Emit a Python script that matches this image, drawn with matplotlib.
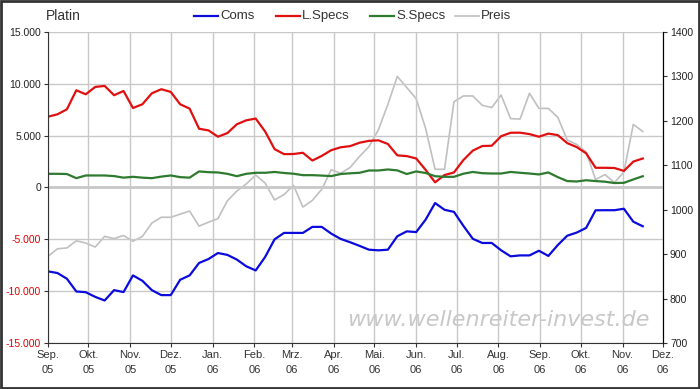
import numpy as np
import pandas as pd
import matplotlib
matplotlib.use("Agg")
import matplotlib.pyplot as plt
from matplotlib.patches import Rectangle

# weekly COT values, platinum
dates = pd.date_range("2005-09-01", periods=64, freq="7D")

coms = [-8090, -8250, -8800, -10030, -10100, -10550, -10900, -9900, -10090, -8480,
        -9000, -9900, -10380, -10380, -8900, -8480, -7280, -6900, -6320, -6500,
        -6950, -7600, -8000, -6700, -5000, -4380, -4380, -4380, -3800, -3800,
        -4450, -4960, -5280, -5630, -6000, -6060, -6000, -4700, -4230, -4300,
        -3100, -1500, -2150, -2350, -3700, -4950, -5350, -5350, -6060, -6640,
        -6550, -6550, -6100, -6600, -5550, -4650, -4350, -3900, -2200, -2190,
        -2190, -2050, -3300, -3740]

lspecs = [6830, 7060, 7540, 9380, 8990, 9700, 9800, 8900, 9310, 7670,
          8030, 9090, 9480, 9220, 8030, 7610, 5670, 5510, 4900, 5250,
          6100, 6480, 6650, 5400, 3700, 3220, 3230, 3350, 2600, 3050,
          3600, 3880, 3990, 4320, 4500, 4550, 4200, 3100, 3030, 2800,
          1700, 500, 1200, 1450, 2650, 3560, 4000, 4030, 4950, 5280,
          5290, 5150, 4900, 5200, 5050, 4280, 3900, 3300, 1900, 1900,
          1880, 1600, 2500, 2800]

sspecs = [1320, 1320, 1300, 900, 1160, 1160, 1160, 1100, 950, 1030,
          950, 900, 1050, 1160, 1000, 950, 1550, 1480, 1450, 1320,
          1090, 1320, 1420, 1420, 1500, 1400, 1330, 1190, 1190, 1150,
          1100, 1300, 1370, 1420, 1640, 1640, 1740, 1650, 1300, 1550,
          1400, 1090, 1030, 1030, 1330, 1500, 1380, 1350, 1350, 1500,
          1420, 1350, 1260, 1450, 1000, 620, 580, 700, 620, 560,
          430, 450, 780, 1090]

preis = [895, 912, 914, 930, 925, 916, 940, 935, 942, 929,
         940, 970, 983, 983, 990, 997, 963, 972, 980, 1020,
         1042, 1058, 1078, 1060, 1022, 1034, 1055, 1006, 1021, 1046,
         1090, 1082, 1095, 1120, 1142, 1180, 1237, 1300, 1275, 1250,
         1183, 1091, 1091, 1243, 1256, 1256, 1235, 1230, 1258, 1205,
         1204, 1262, 1228, 1228, 1208, 1157, 1147, 1130, 1068, 1079,
         1061, 1085, 1192, 1176]

month_labels = ["Sep.\n05", "Okt.\n05", "Nov.\n05", "Dez.\n05", "Jan.\n06", "Feb.\n06",
                "Mrz.\n06", "Apr.\n06", "Mai.\n06", "Jun.\n06", "Jul.\n06", "Aug.\n06",
                "Sep.\n06", "Okt.\n06", "Nov.\n06", "Dez.\n06"]
left_ticks = [15000, 10000, 5000, 0, -5000, -10000, -15000]
left_labels = ["15.000", "10.000", "5.000", "0", "-5.000", "-10.000", "-15.000"]
right_ticks = [1400, 1300, 1200, 1100, 1000, 900, 800, 700]

plt.rcParams["font.family"] = ["Liberation Sans", "DejaVu Sans"]

fig = plt.figure(figsize=(7, 3.89), dpi=100)
ax = fig.add_axes([48 / 700, 46 / 389, 615 / 700, 311 / 389])
ax2 = ax.twinx()

month_pos = pd.date_range("2005-09-01", periods=16, freq="MS")
ax.set_xlim(month_pos[0], month_pos[-1])
ax.set_xticks(month_pos)
ax.set_xticklabels(month_labels, fontsize=8, color="#333333", linespacing=1.6)

ax.set_ylim(-15000, 15000)
ax.set_yticks(left_ticks)
ax.set_yticklabels(left_labels, fontsize=7.5)
for lab, v in zip(ax.get_yticklabels(), left_ticks):
    lab.set_color("#e00000" if v < 0 else "#222222")

ax.grid(True, color="#c8c8c8", linewidth=1.0)
ax.axhline(0, color="#c8c8c8", linewidth=2.0, zorder=0)
ax.set_axisbelow(True)

ax2.plot(dates, preis, color="#c0c0c0", linewidth=1.2, zorder=1)
ax.set_zorder(ax2.get_zorder() + 1)
ax.patch.set_visible(False)
ax.plot(dates, coms, color="#0b0bdc", linewidth=1.6)
ax.plot(dates, lspecs, color="#e01010", linewidth=1.6)
ax.plot(dates, sspecs, color="#2e7a2e", linewidth=1.6)

ax2.set_ylim(700, 1400)
ax2.set_yticks(right_ticks)
ax2.set_yticklabels([str(t) for t in right_ticks], fontsize=7.5, color="#222222")

for a in (ax, ax2):
    a.spines["top"].set_visible(False)
    a.tick_params(length=3, width=0.8, color="#333333", pad=2)
ax.spines["left"].set_color("#333333")
ax.spines["bottom"].set_color("#333333")
ax.spines["bottom"].set_linestyle((0, (1, 1)))
ax2.spines["right"].set_color("#333333")
ax2.spines["left"].set_visible(False)
ax2.spines["bottom"].set_visible(False)

# title and legend row
fig.text(46 / 700, 1 - 16 / 389, "Platin", fontsize=10, color="#333333", va="center")
legend_items = [("Coms", "#0b0bdc", 194), ("L.Specs", "#e01010", 276),
                ("S.Specs", "#2e7a2e", 370), ("Preis", "#c0c0c0", 455)]
for name, col, x0 in legend_items:
    yy = 1 - 16 / 389
    fig.add_artist(plt.Line2D([x0 / 700, (x0 + 24) / 700], [yy, yy], color=col,
                              linewidth=1.6 if name != "Preis" else 1.2))
    fig.text((x0 + 26) / 700, yy, name, fontsize=9.5, color="#333333", va="center")

# watermark
fig.text(650 / 700, 1 - 320 / 389, "www.wellenreiter-invest.de", fontsize=16,
         family="DejaVu Sans", style="italic", color="#c8c8c8", ha="right",
         va="center", zorder=0)

fig.add_artist(Rectangle((0.002, 0.003), 0.996, 0.994, transform=fig.transFigure,
                         fill=False, edgecolor="#333333", linewidth=2))

fig.savefig("out.png", dpi=100)
